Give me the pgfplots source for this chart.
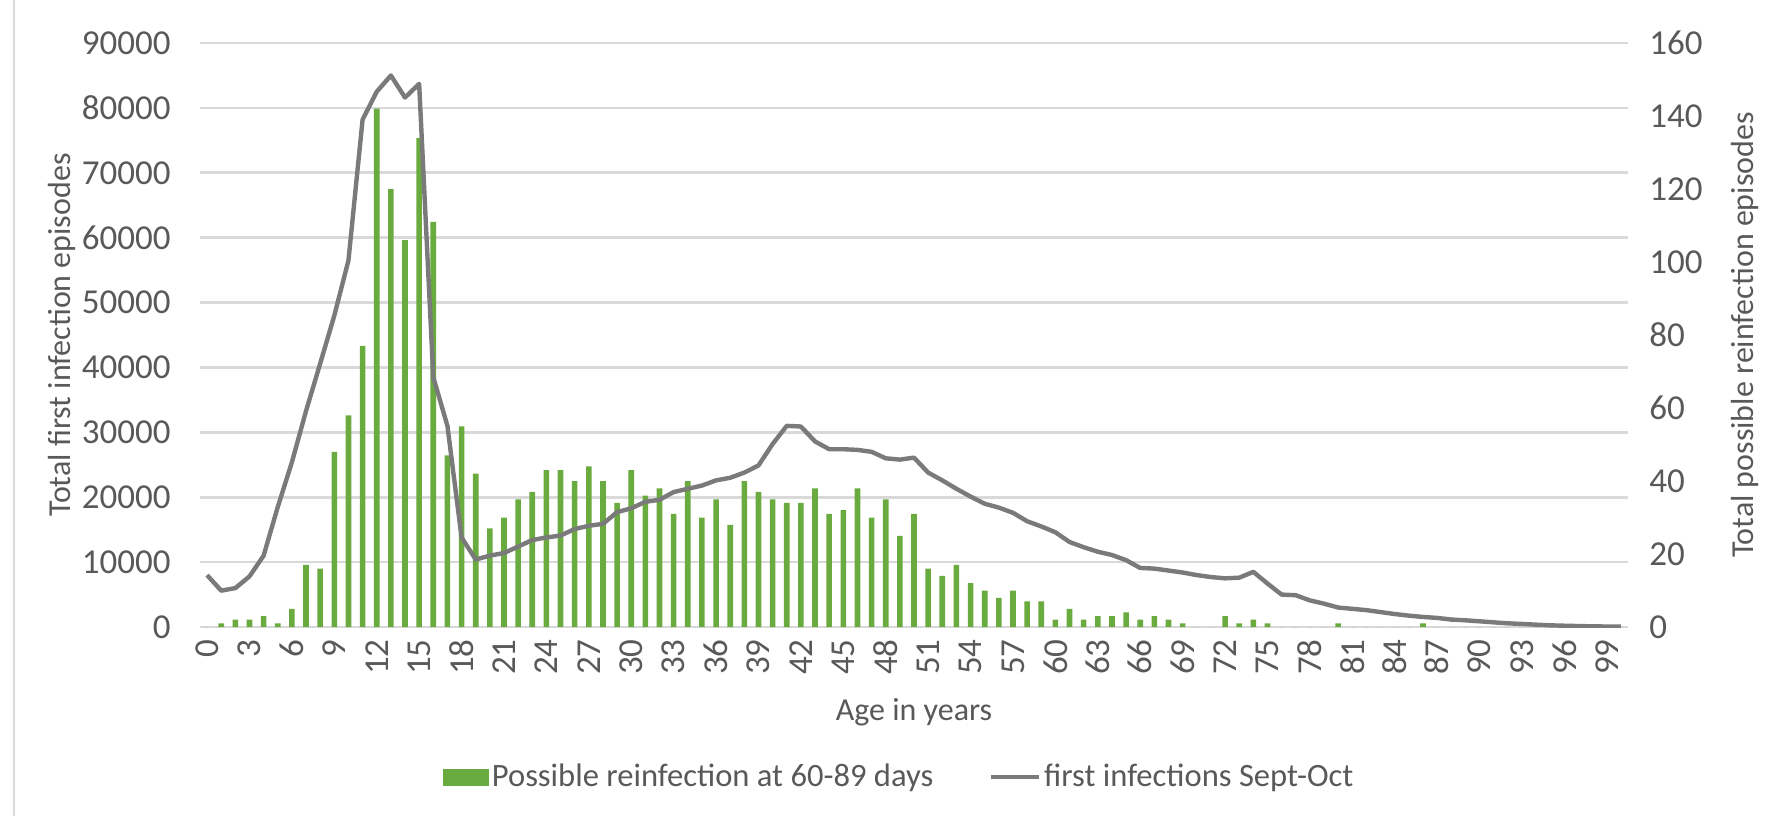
\documentclass[border=0pt]{standalone}
\usepackage{pgfplots}
\usepackage{pgfplotstable}
\pgfplotsset{compat=1.18}
\usepackage{fontspec}
\setmainfont{Carlito}
\definecolor{barg}{HTML}{6AAB3F}
\definecolor{lineg}{HTML}{7A7A7A}
\definecolor{gridc}{HTML}{D9D9D9}
\definecolor{txt}{HTML}{595959}

\pgfplotstableread{
age bar
0 0
1 1
2 2
3 2
4 3
5 1
6 5
7 17
8 16
9 48
10 58
11 77
12 142
13 120
14 106
15 134
16 111
17 47
18 55
19 42
20 27
21 30
22 35
23 37
24 43
25 43
26 40
27 44
28 40
29 34
30 43
31 36
32 38
33 31
34 40
35 30
36 35
37 28
38 40
39 37
40 35
41 34
42 34
43 38
44 31
45 32
46 38
47 30
48 35
49 25
50 31
51 16
52 14
53 17
54 12
55 10
56 8
57 10
58 7
59 7
60 2
61 5
62 2
63 3
64 3
65 4
66 2
67 3
68 2
69 1
70 0
71 0
72 3
73 1
74 2
75 1
76 0
77 0
78 0
79 0
80 1
81 0
82 0
83 0
84 0
85 0
86 1
87 0
88 0
89 0
90 0
91 0
92 0
93 0
94 0
95 0
96 0
97 0
98 0
99 0
100 0
}\bardata

\pgfplotstableread{
age first
0 8000
1 5600
2 6000
3 7800
4 11000
5 18500
6 25400
7 33300
8 40600
9 48000
10 56500
11 78200
12 82500
13 85000
14 81600
15 83700
16 38500
17 31000
18 13800
19 10400
20 11000
21 11400
22 12400
23 13400
24 13800
25 14100
26 15100
27 15600
28 15900
29 17700
30 18300
31 19300
32 19600
33 20800
34 21300
35 21800
36 22600
37 23000
38 23800
39 24900
40 28200
41 31000
42 30900
43 28600
44 27400
45 27400
46 27300
47 27000
48 26000
49 25800
50 26100
51 23800
52 22600
53 21300
54 20100
55 19000
56 18400
57 17600
58 16300
59 15500
60 14600
61 13100
62 12300
63 11600
64 11100
65 10300
66 9100
67 9000
68 8700
69 8400
70 8000
71 7700
72 7500
73 7600
74 8500
75 6700
76 5000
77 4900
78 4100
79 3600
80 3000
81 2800
82 2600
83 2300
84 2000
85 1750
86 1550
87 1400
88 1150
89 1030
90 880
91 720
92 570
93 470
94 360
95 260
96 200
97 150
98 100
99 80
100 50
}\linedata

\pgfplotsset{
  common/.style={
    scale only axis, width=714pt, height=292pt,
    at={(0pt,0pt)}, anchor=south west,
    xmin=-0.5, xmax=100.5,
    axis line style={draw=none},
    major tick length=0pt,
    tick label style={font=\fontsize{17.5}{21}\selectfont, text=txt},
    label style={font=\fontsize{16}{19}\selectfont, text=txt},
    /pgf/number format/assume math mode=true,
    /pgf/number format/fixed,
    /pgf/number format/1000 sep={},
    scaled y ticks=false,
  }
}

\begin{document}
\begin{tikzpicture}
\useasboundingbox (-100pt,-94.5pt) rectangle (782.5pt,313.5pt);
\draw[gridc, line width=1pt] (-93pt,-94.5pt) -- (-93pt,313.5pt);

% left axis with grid and x labels
\begin{axis}[common,
  ymin=0, ymax=90000, ytick={0,10000,...,90000},
  ymajorgrids, grid style={gridc, line width=1.3pt},
  xtick={0,3,...,99},
  xticklabel style={rotate=90, anchor=east, inner sep=0pt},
  xticklabel shift=6pt,
  yticklabel style={anchor=east, inner sep=0pt},
  yticklabel shift=14.5pt,
  xlabel={Age in years},
  xlabel style={at={(axis description cs:0.5,-0.1455)}, anchor=center},
  ylabel={Total first infection episodes},
  ylabel style={at={(axis description cs:-0.0966,0.5)}, anchor=center, rotate=0},
]
\end{axis}

% right axis with bars
\begin{axis}[common,
  ymin=0, ymax=160, ytick={0,20,...,160},
  xtick=\empty,
  yticklabel pos=right,
  yticklabel style={anchor=west, inner sep=0pt},
  yticklabel shift=10.5pt,
  ylabel={Total possible reinfection episodes},
  ylabel style={at={(axis description cs:1.0819,0.5)}, anchor=center, rotate=0},
  ybar, bar width=2.8pt,
]
\addplot[fill=barg, draw=none] table[x=age, y=bar] {\bardata};
\end{axis}

% line on left scale
\begin{axis}[common,
  ymin=0, ymax=90000,
  hide axis,
  legend columns=2,
  legend style={at={(axis description cs:0.49,-0.2568)}, anchor=center,
    draw=none, fill=none, font=\fontsize{16.3}{19}\selectfont, text=txt,
    /tikz/every even column/.append style={column sep=26pt},
    nodes={inner sep=1.5pt}},
]
\addlegendimage{legend image code/.code={\fill[barg] (0pt,-4pt) rectangle (22.5pt,4pt);}}
\addlegendentry{Possible reinfection at 60-89 days}
\addplot[lineg, line width=2.2pt, line join=round,
  legend image code/.code={\draw[lineg, line width=2.4pt] (0pt,0pt) -- (24pt,0pt);}]
  table[x=age, y=first] {\linedata};
\addlegendentry{first infections Sept-Oct}
\end{axis}
\end{tikzpicture}
\end{document}
